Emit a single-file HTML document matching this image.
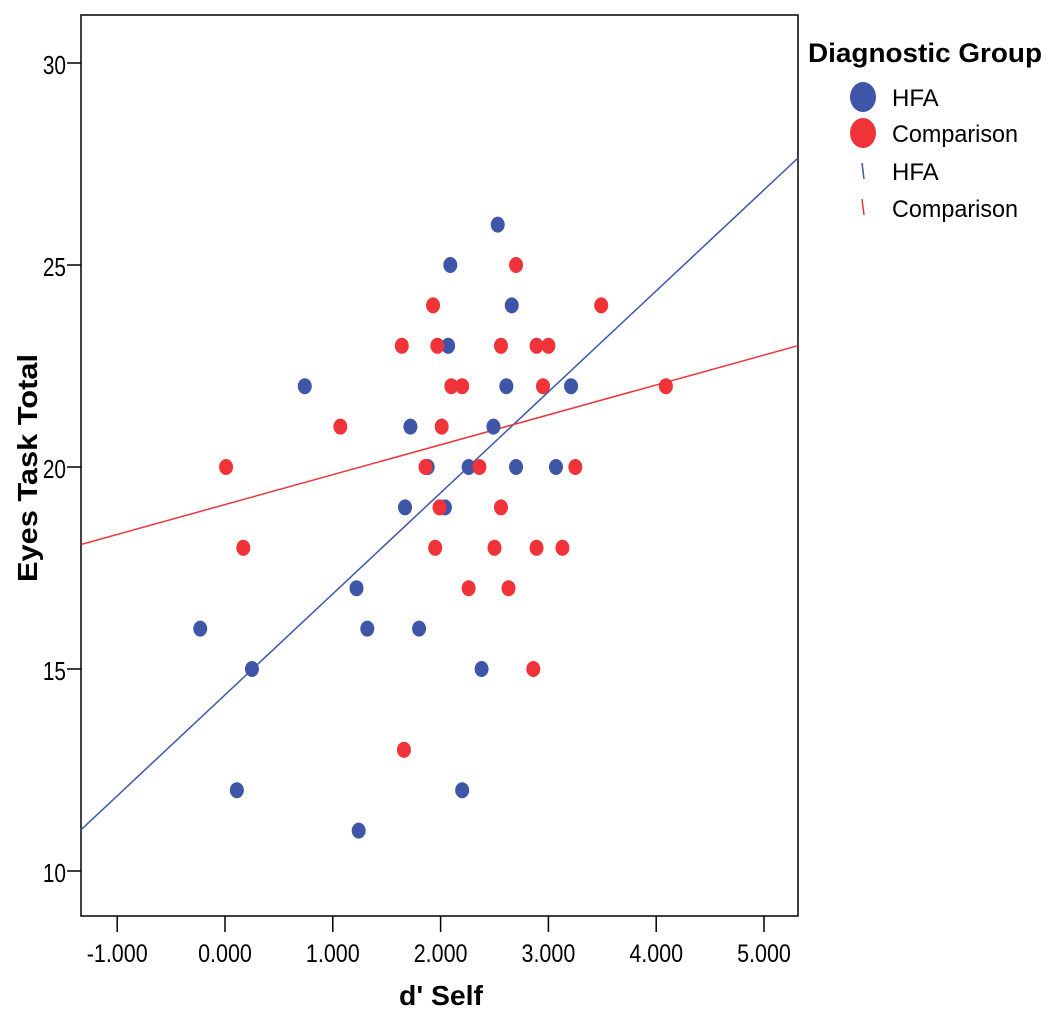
<!DOCTYPE html>
<html><head><meta charset="utf-8"><style>
body{margin:0;background:#fff}
svg{display:block;font-family:"Liberation Sans",Arial,sans-serif}
</style></head><body>
<svg id="chart" width="1050" height="1022" viewBox="0 0 1050 1022">
<rect x="81" y="15" width="717" height="901" fill="#fff" stroke="#000" stroke-width="1.5"/>
<g id="marks"></g>
<g id="axes"></g>
<text transform="translate(37,468) rotate(-90)" text-anchor="middle" font-size="28" font-weight="bold" textLength="228" lengthAdjust="spacingAndGlyphs">Eyes Task Total</text>
<text x="441" y="1005" text-anchor="middle" font-size="28" font-weight="bold" textLength="84" lengthAdjust="spacingAndGlyphs">d' Self</text>
<g>
<text x="808" y="62" font-size="27" font-weight="bold" textLength="234" lengthAdjust="spacingAndGlyphs">Diagnostic Group</text>
<g><ellipse cx="863" cy="97" rx="13" ry="15" fill="#3e55a8"/><text x="892" y="106" font-size="24">HFA</text></g>
<g><ellipse cx="863" cy="133" rx="13" ry="15" fill="#ef3339"/><text x="892" y="142" font-size="24" textLength="126" lengthAdjust="spacingAndGlyphs">Comparison</text></g>
<g><line x1="862" y1="163" x2="864" y2="179" stroke="#3e55a8" stroke-width="1.5"/><text x="892" y="180" font-size="24">HFA</text></g>
<g><line x1="862" y1="199" x2="864" y2="215" stroke="#ef3339" stroke-width="1.5"/><text x="892" y="217" font-size="24" textLength="126" lengthAdjust="spacingAndGlyphs">Comparison</text></g>
</g>
</svg>
<script>
const xTicks=[-1,0,1,2,3,4,5];
const xTickLabels=["-1.000","0.000","1.000","2.000","3.000","4.000","5.000"];
const yTicks=[10,15,20,25,30];
const yTickLabels=["10","15","20","25","30"];
const hfaX=[2.53,2.09,2.66,2.07,0.74,2.61,3.21,1.72,2.49,1.88,2.26,2.70,3.07,1.67,2.04,1.22,-0.23,1.32,1.80,0.25,2.38,0.11,2.20,1.24];
const hfaY=[26,25,24,23,22,22,22,21,21,20,20,20,20,19,19,17,16,16,16,15,15,12,12,11];
const compX=[2.70,1.93,3.49,1.64,1.97,2.56,2.89,3.00,1.07,2.10,2.20,2.95,4.09,2.01,0.01,1.86,2.36,3.25,1.99,2.56,0.17,1.95,2.50,2.89,3.13,2.26,2.63,2.86,1.66];
const compY=[25,24,24,23,23,23,23,23,21,22,22,22,22,21,20,20,20,20,19,19,18,18,18,18,18,17,17,15,13];
const hfaFit=[14.36,2.50];
const compFit=[19.07,0.74];
const L=81,R=798,T=15,B=916;
const xs=v=>225+v*107.8;
const ys=v=>467-(v-20)*40.4;
const xMin=(L-225)/107.8,xMax=(R-225)/107.8;
const NS="http://www.w3.org/2000/svg";
function mk(t,a,p){const e=document.createElementNS(NS,t);for(const k in a)e.setAttribute(k,a[k]);p.appendChild(e);return e;}
const ax=document.getElementById('axes'),mg=document.getElementById('marks');
xTicks.forEach((v,i)=>{
 const l=mk('line',{x1:xs(v),x2:xs(v),y1:B,y2:B+16,stroke:'#000','stroke-width':1.5},ax);
 
 
 const t=mk('text',{transform:'translate('+xs(v)+','+(B+46)+') scale(0.86,1)','text-anchor':'middle','font-size':25},ax);t.textContent=xTickLabels[i];
 
 
});
yTicks.forEach((v,i)=>{
 const l=mk('line',{x1:L-14,x2:L,y1:ys(v),y2:ys(v),stroke:'#000','stroke-width':1.5},ax);
 
 
 const t=mk('text',{transform:'translate('+(L-15)+','+(ys(v)+11)+') scale(0.8,1)','text-anchor':'end','font-size':26},ax);t.textContent=yTickLabels[i];
 
 
});
function fit(f,c,n){const l=mk('line',{x1:L,y1:ys(f[0]+f[1]*xMin),x2:R,y2:ys(f[0]+f[1]*xMax),stroke:c,'stroke-width':1.5},mg);
 
 }
fit(hfaFit,'#3e55a8','hfa-fit-line');
fit(compFit,'#ef3339','comparison-fit-line');
hfaX.forEach((v,i)=>{const e=mk('ellipse',{cx:xs(v),cy:ys(hfaY[i]),rx:7,ry:8,fill:'#3e55a8'},mg);
 
 });
compX.forEach((v,i)=>{const e=mk('ellipse',{cx:xs(v),cy:ys(compY[i]),rx:7,ry:8,fill:'#ef3339'},mg);
 
 });
</script>
</body></html>
